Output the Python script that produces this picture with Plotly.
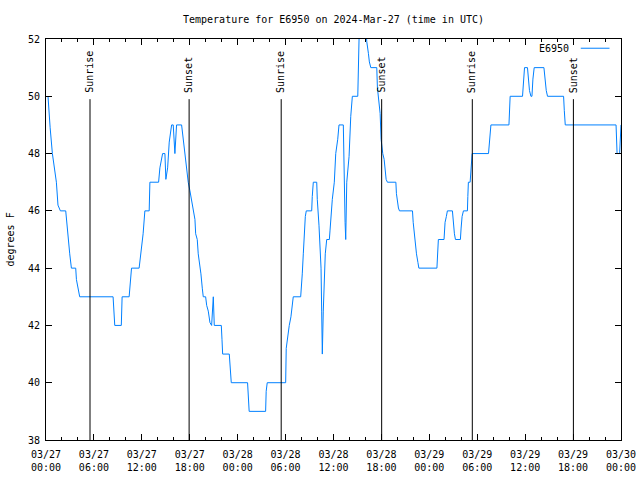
import pandas as pd
import plotly.graph_objects as go

base = pd.Timestamp("2024-03-27 00:00")

hours = [0.25, 0.34, 0.52, 0.80, 1.09, 1.30, 1.50, 1.80, 2.47, 2.56, 2.76, 2.97, 3.18, 3.72, 3.81, 4.01, 4.22,
         8.40, 8.53, 8.61, 9.43, 9.53, 10.41, 10.50, 10.71, 11.66, 11.75, 11.96, 12.16, 12.38, 12.92, 13.01,
         14.10, 14.26, 14.60, 14.89, 15.01, 15.23, 15.43, 15.73, 15.93, 16.14, 16.35, 16.98, 17.18, 17.48,
         17.68, 17.81, 18.02, 18.24, 18.44, 18.65, 18.74, 18.94, 19.06, 19.28, 19.40, 19.57, 19.69, 19.99,
         20.12, 20.32, 20.53, 20.74, 20.85, 20.95, 21.07, 21.95, 22.04, 22.12, 22.95, 23.08, 23.20, 25.24,
         25.32, 25.44, 27.50, 27.57, 27.70, 30.01, 30.08, 30.21, 30.33, 30.46, 30.67, 30.80, 30.96, 31.89,
         31.96, 32.09, 32.22, 32.34, 32.47, 32.59, 33.27, 33.34, 33.47, 33.90, 33.97, 34.18, 34.31, 34.35,
         34.44, 34.52, 34.60, 34.72, 34.85, 34.97, 35.15, 35.48, 35.56, 35.69, 35.85, 36.10, 36.28, 36.53,
         36.69, 37.23, 37.32, 37.45, 37.53, 37.66, 37.95, 38.16, 38.36, 39.04, 39.20, 39.33, 40.02, 40.17,
         40.37, 40.49, 40.67, 41.42, 41.50, 41.62, 41.84, 41.96, 42.05, 42.17, 42.34, 42.46, 42.59, 42.75,
         43.81, 43.88, 44.01, 44.13, 44.26, 45.89, 45.98, 46.10, 46.23, 46.39, 46.57, 46.69, 48.95, 49.02,
         49.13, 49.84, 49.97, 50.13, 50.26, 50.89, 51.02, 51.14, 51.27, 51.89, 51.98, 52.10, 52.27, 52.77,
         52.82, 52.89, 53.11, 53.23, 53.36, 55.41, 55.53, 55.71, 57.97, 58.04, 58.12, 59.67, 59.79, 59.92,
         60.29, 60.42, 60.54, 60.72, 60.85, 60.97, 61.13, 62.35, 62.48, 62.64, 62.80, 64.81, 64.90, 65.02,
         71.38, 71.51, 71.83, 71.96, 72.00]

temps = [50.0, 49.5, 48.9, 48.0, 47.4, 47.0, 46.2, 46.0, 46.0, 45.7, 45.0, 44.5, 44.0, 44.0, 43.6, 43.3, 43.0,
         43.0, 42.2, 42.0, 42.0, 43.0, 43.0, 43.4, 44.0, 44.0, 44.2, 44.6, 45.2, 46.0, 46.0, 47.0,
         47.0, 47.5, 48.0, 48.0, 47.1, 47.5, 48.4, 49.0, 49.0, 48.0, 49.0, 49.0, 48.5, 47.6,
         47.1, 47.0, 46.7, 46.3, 46.0, 45.7, 45.2, 45.0, 44.5, 44.1, 43.8, 43.3, 43.0, 43.0,
         42.7, 42.5, 42.1, 42.0, 42.9, 43.0, 42.0, 42.0, 41.5, 41.0, 41.0, 40.2, 40.0, 40.0,
         39.4, 39.0, 39.0, 39.7, 40.0, 40.0, 41.2, 41.5, 41.9, 42.0, 42.3, 42.7, 43.0, 43.0,
         43.5, 43.8, 44.5, 45.3, 45.8, 46.0, 46.0, 46.5, 47.0, 47.0, 46.4, 45.5, 44.5, 44.0,
         44.0, 42.5, 41.0, 42.5, 43.5, 44.5, 45.0, 45.0, 45.3, 45.8, 46.4, 47.0, 48.0, 48.5,
         49.0, 49.0, 47.1, 45.6, 45.0, 47.0, 47.9, 49.3, 50.0, 50.0, 52.0, 52.5, 52.5, 51.9,
         51.5, 51.2, 51.0, 51.0, 50.3, 49.9, 49.4, 48.5, 48.2, 48.0, 47.8, 47.5, 47.1, 47.0,
         47.0, 46.6, 46.3, 46.1, 46.0, 46.0, 45.6, 45.2, 45.0, 44.5, 44.2, 44.0, 44.0, 44.5,
         45.0, 45.0, 45.6, 45.8, 46.0, 46.0, 45.5, 45.2, 45.0, 45.0, 45.4, 45.8, 46.0, 46.0,
         46.5, 47.0, 47.0, 47.5, 48.0, 48.0, 48.5, 49.0, 49.0, 49.5, 50.0, 50.0, 50.6, 51.0,
         51.0, 50.6, 50.2, 50.0, 50.0, 50.6, 51.0, 51.0, 50.6, 50.2, 50.0, 50.0, 49.5, 49.0,
         49.0, 48.0, 48.0, 49.0, 49.0]

sunrise_hours = [5.51, 29.45, 53.38]
sunset_hours = [17.92, 42.03, 66.04]
marker_top = 49.9
label_base = 50.05

y_ticks = [38, 40, 42, 44, 46, 48, 50, 52]

times = [base + pd.Timedelta(hours=h) for h in hours]

FONT = "DejaVu Sans Mono"
BLUE = "#0080ff"

fig = go.Figure()
fig.add_trace(go.Scatter(x=times, y=temps, mode="lines", line=dict(color=BLUE, width=1),
                         showlegend=False, hoverinfo="skip"))

shapes = []
annotations = []
for label, hs in (("Sunrise", sunrise_hours), ("Sunset", sunset_hours)):
    for h in hs:
        t = base + pd.Timedelta(hours=h)
        shapes.append(dict(type="line", xref="x", yref="y", x0=t, x1=t, y0=38, y1=marker_top,
                           line=dict(color="black", width=1)))
        annotations.append(dict(x=t, y=label_base, xref="x", yref="y", text=label, textangle=-90,
                                showarrow=False, xanchor="center", yanchor="bottom",
                                font=dict(family=FONT, size=10, color="black")))

# legend (gnuplot style: text then sample)
annotations.append(dict(x=0.9125, y=0.977, xref="paper", yref="paper", text="E6950", showarrow=False,
                        xanchor="right", yanchor="middle", font=dict(family=FONT, size=10, color="black")))
shapes.append(dict(type="line", xref="paper", yref="paper", x0=0.930, x1=0.980, y0=0.977, y1=0.977,
                   line=dict(color=BLUE, width=1)))

# y axis title
annotations.append(dict(x=0, y=0.5, xref="paper", yref="paper", text="degrees F", textangle=-90,
                        showarrow=False, xanchor="center", yanchor="middle", xshift=-36,
                        font=dict(family=FONT, size=10, color="black")))

fig.update_layout(
    width=640, height=480,
    margin=dict(l=46, r=19, t=39, b=40, autoexpand=False),
    paper_bgcolor="white", plot_bgcolor="white",
    title=dict(text="Temperature for E6950 on 2024-Mar-27 (time in UTC)", x=0.5, xref="paper",
               y=(480 - 19) / 480, yref="container", yanchor="middle", xanchor="center",
               font=dict(family=FONT, size=10, color="black")),
    shapes=shapes, annotations=annotations, showlegend=False,
)

fig.update_xaxes(
    type="date", range=[base, base + pd.Timedelta(hours=72)],
    tick0=base, dtick=6 * 3600 * 1000, tickformat="%m/%d<br>%H:%M",
    ticks="inside", ticklen=6, tickcolor="black", tickwidth=1, ticklabelstandoff=5,
    minor=dict(dtick=2 * 3600 * 1000, ticks="inside", ticklen=3, tickcolor="black", showgrid=False),
    showgrid=False, zeroline=False, showline=True, linecolor="black", linewidth=1, mirror="allticks",
    tickfont=dict(family=FONT, size=10, color="black"),
)
fig.update_yaxes(
    range=[38, 52], tickvals=y_ticks, ticktext=[str(v) for v in y_ticks],
    ticks="inside", ticklen=6, tickcolor="black", tickwidth=1, ticklabelstandoff=3,
    showgrid=False, zeroline=False, showline=True, linecolor="black", linewidth=1, mirror="allticks",
    tickfont=dict(family=FONT, size=10, color="black"),
)

fig.write_html("out.html", config={"displayModeBar": False},
               post_script="document.body.style.margin='0px';")
